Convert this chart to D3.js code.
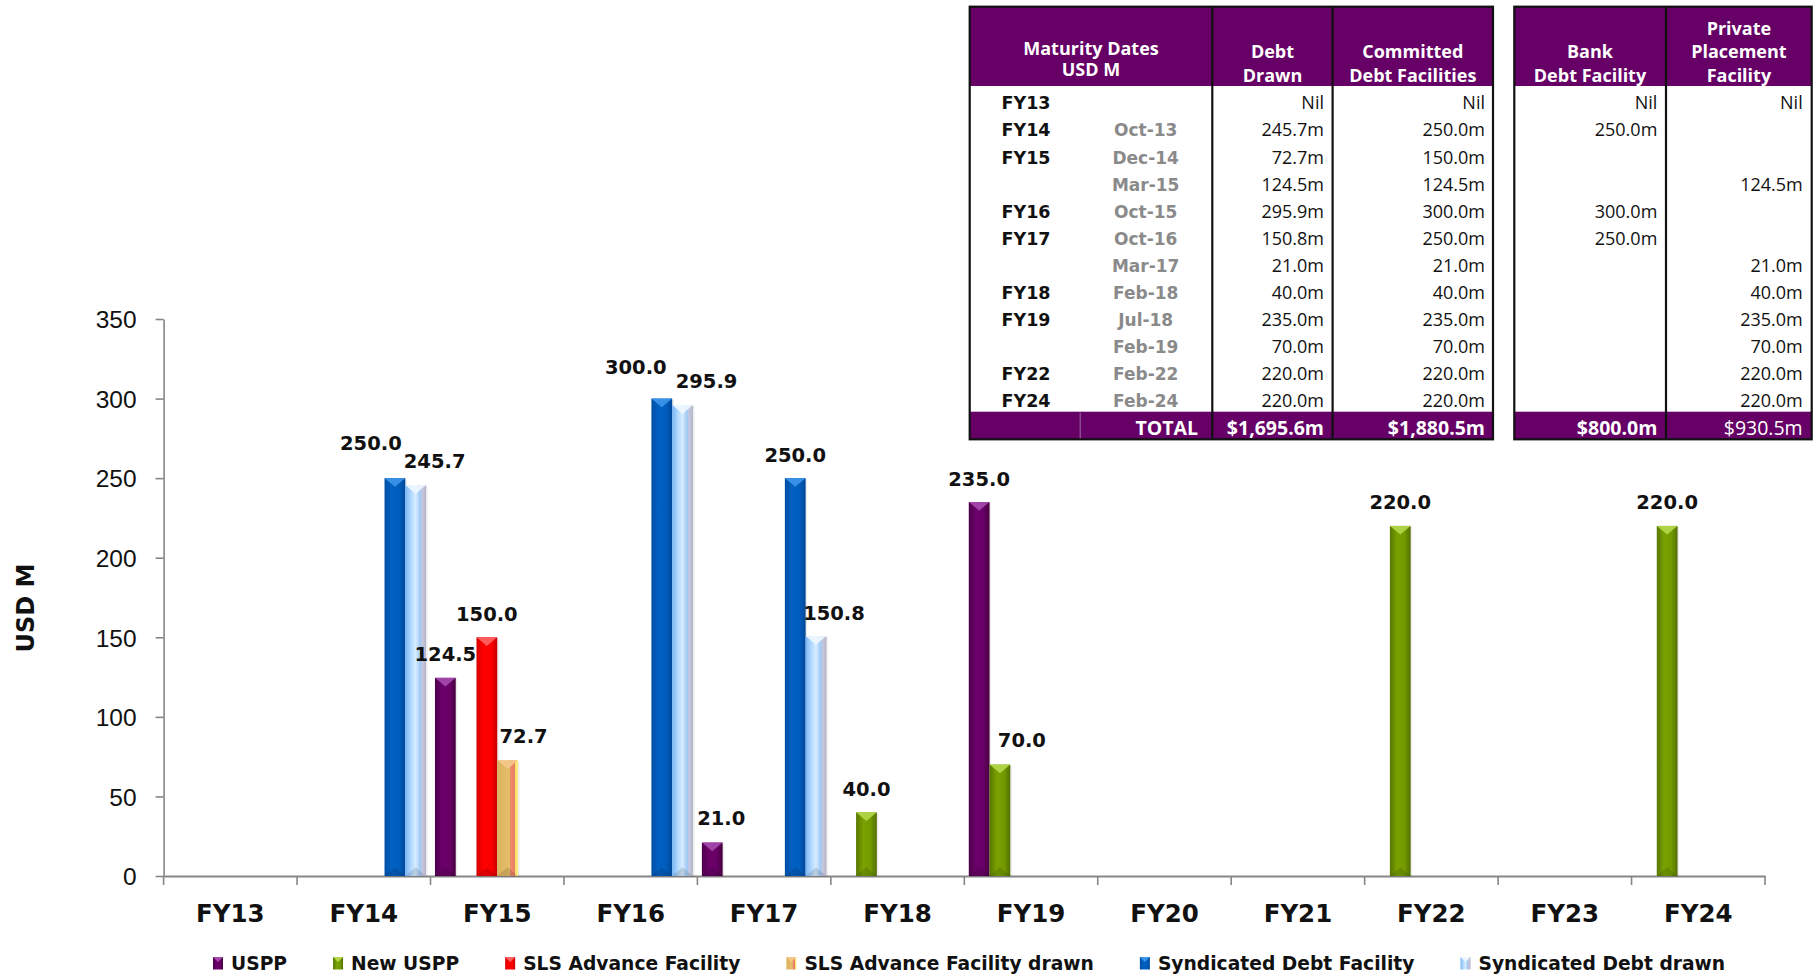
<!DOCTYPE html>
<html>
<head>
<meta charset="utf-8">
<script src="https://cdn.jsdelivr.net/npm/d3@7"></script>
<style>
  html, body { margin: 0; padding: 0; background: #ffffff; }
  svg { display: block; }
</style>
</head>
<body>
<svg id="chart" width="1814" height="975"></svg>
<script>
// ---- Chart data -------------------------------------------------------
const categories = ["FY13", "FY14", "FY15", "FY16", "FY17", "FY18", "FY19", "FY20", "FY21", "FY22", "FY23", "FY24"];
const seriesNames = ["USPP", "New USPP", "SLS Advance Facility", "SLS Advance Facility drawn", "Syndicated Debt Facility", "Syndicated Debt drawn"];

// one value per category (null = no maturity that year), USD M
const uspp         = [null, null, 124.5, null, 21.0, null, 235.0, null, null, null, null, null];
const newUspp      = [null, null, null, null, null, 40.0, 70.0, null, null, 220.0, null, 220.0];
const slsFacility  = [null, null, 150.0, null, null, null, null, null, null, null, null, null];
const slsDrawn     = [null, null, 72.7, null, null, null, null, null, null, null, null, null];
const syndFacility = [null, 250.0, null, 300.0, 250.0, null, null, null, null, null, null, null];
const syndDrawn    = [null, 245.7, null, 295.9, 150.8, null, null, null, null, null, null, null];

const yTicks = [0, 50, 100, 150, 200, 250, 300, 350];
const yTitle = "USD M";

// ---- Maturity table data ---------------------------------------------
const tableHeaders = [["Maturity Dates", "USD M"], ["Debt", "Drawn"], ["Committed", "Debt Facilities"]];
const sideHeaders = [["Bank", "Debt Facility"], ["Private", "Placement", "Facility"]];
const rowYears = ["FY13", "FY14", "FY15", "", "FY16", "FY17", "", "FY18", "FY19", "", "FY22", "FY24"];
const rowDates = ["", "Oct-13", "Dec-14", "Mar-15", "Oct-15", "Oct-16", "Mar-17", "Feb-18", "Jul-18", "Feb-19", "Feb-22", "Feb-24"];
// 0 = Nil, null = blank cell
const debtDrawn   = [0, 245.7, 72.7, 124.5, 295.9, 150.8, 21.0, 40.0, 235.0, 70.0, 220.0, 220.0];
const committed   = [0, 250.0, 150.0, 124.5, 300.0, 250.0, 21.0, 40.0, 235.0, 70.0, 220.0, 220.0];
const bankFacility = [0, 250.0, null, null, 300.0, 250.0, null, null, null, null, null, null];
const privatePlacement = [0, null, null, 124.5, null, null, 21.0, 40.0, 235.0, 70.0, 220.0, 220.0];

// ---- Styles ----------------------------------------------------------
const PURPLE = "#660066";
const seriesStyles = [
  { stops: [[0, "#4c004a"], [0.35, "#6c006a"], [0.7, "#680066"], [1, "#48003f"]], cap: "#a64aae" },
  { stops: [[0, "#587600"], [0.35, "#79a200"], [0.7, "#739a00"], [1, "#537000"]], cap: "#b4d84a" },
  { stops: [[0, "#d80000"], [0.35, "#ff0000"], [0.75, "#fa0000"], [1, "#c40000"]], cap: "#ff6464" },
  { stops: [[0, "#dcb25e"], [0.6, "#e6be68"], [0.64, "#ec8c6c"], [0.84, "#ee7e62"], [0.86, "#ffe26a"], [1, "#ffec80"]], cap: "#f4c88a" },
  { stops: [[0, "#004ea4"], [0.35, "#0061c2"], [0.7, "#005dbd"], [1, "#00489a"]], cap: "#3c96ea" },
  { stops: [[0, "#78b6f6"], [0.3, "#b6dbff"], [0.5, "#d8edff"], [0.72, "#9ec9f4"], [0.82, "#c6c8de"], [1, "#b4b4c8"]], cap: "#eef7ff" }
];
// hand-placed label nudges (dx, dy) keyed "series|category"
const labelNudge = {
  "4|FY14": [-24, -12], "5|FY14": [19, 0], "3|FY15": [16, -1],
  "4|FY16": [-26, -8], "5|FY16": [24, -1], "0|FY17": [9, -1],
  "5|FY17": [18, 0], "1|FY19": [22, -1]
};

const allSeries = [uspp, newUspp, slsFacility, slsDrawn, syndFacility, syndDrawn];

const svg = d3.select("#chart");
const defs = svg.append("defs");
seriesStyles.forEach((s, i) => {
  const g = defs.append("linearGradient").attr("id", "grad" + i)
    .attr("x1", 0).attr("x2", 1).attr("y1", 0).attr("y2", 0);
  s.stops.forEach(([o, c]) => g.append("stop").attr("offset", o).attr("stop-color", c));
});

// ---- Scales ----------------------------------------------------------
const plot = { left: 163.6, right: 1765, top: 319, bottom: 876 };
const x = d3.scaleBand().domain(categories).range([plot.left, plot.right]).padding(0);
const xs = d3.scaleBand().domain(d3.range(seriesNames.length)).range([0, x.bandwidth()])
  .paddingInner(0).paddingOuter(0.216);
const y = d3.scaleLinear().domain([0, 350]).range([plot.bottom, plot.top]);

// ---- Axes ------------------------------------------------------------
const axisColor = "#868686";
const yAxis = svg.append("g").attr("transform", `translate(${plot.left},0)`)
  .call(d3.axisLeft(y).tickValues(yTicks).tickSize(8).tickSizeOuter(0).tickPadding(19));
yAxis.select(".domain").attr("stroke", axisColor).attr("stroke-width", 1.6);
yAxis.selectAll(".tick line").attr("stroke", axisColor).attr("stroke-width", 1.6);
yAxis.selectAll(".tick text")
  .attr("font-family", "'Liberation Sans', Arial, sans-serif")
  .attr("font-size", 24.5).attr("fill", "#111").attr("dy", "0.36em");

const xAxis = svg.append("g").attr("transform", `translate(0,${plot.bottom})`)
  .call(d3.axisBottom(x).tickSize(0).tickSizeOuter(0));
xAxis.select(".domain").attr("stroke", axisColor).attr("stroke-width", 2);
xAxis.selectAll(".tick text")
  .attr("font-family", "'DejaVu Sans', Verdana, sans-serif").attr("font-weight", "bold")
  .attr("font-size", 24.5).attr("fill", "#111").attr("y", 46).attr("dy", 0);
// boundary ticks between fiscal years
xAxis.selectAll("line.bound")
  .data(d3.range(categories.length + 1)).join("line").attr("class", "bound")
  .attr("x1", i => plot.left + i * x.step()).attr("x2", i => plot.left + i * x.step())
  .attr("y1", 0).attr("y2", 9).attr("stroke", axisColor).attr("stroke-width", 1.6);

svg.append("text")
  .attr("transform", `translate(26,608) rotate(-90)`)
  .attr("text-anchor", "middle").attr("dominant-baseline", "central")
  .attr("font-family", "'DejaVu Sans', Verdana, sans-serif").attr("font-weight", "bold")
  .attr("font-size", 24).attr("fill", "#111").text(yTitle);

// ---- Bars ------------------------------------------------------------
const bars = [];
allSeries.forEach((vals, si) => {
  vals.forEach((v, ci) => { if (v != null) bars.push({ si, cat: categories[ci], v }); });
});

const barG = svg.append("g");
const bw = xs.bandwidth();
const capH = bw * 0.42;
const barGroups = barG.selectAll("g.bar").data(bars).join("g").attr("class", "bar");
barGroups.append("rect")
  .attr("x", d => x(d.cat) + xs(d.si) + 1.5).attr("y", d => y(d.v) + 1)
  .attr("width", bw).attr("height", d => y(0) - y(d.v))
  .attr("fill", "#000").attr("opacity", 0.08);
barGroups.append("rect")
  .attr("x", d => x(d.cat) + xs(d.si)).attr("y", d => y(d.v))
  .attr("width", bw).attr("height", d => y(0) - y(d.v))
  .attr("fill", d => `url(#grad${d.si})`);
barGroups.append("path")
  .attr("d", d => {
    const x0 = x(d.cat) + xs(d.si), t = y(d.v);
    return `M${x0},${t}L${x0 + bw},${t}L${x0 + bw / 2},${t + capH}Z`;
  })
  .attr("fill", d => seriesStyles[d.si].cap).attr("opacity", 0.9);
barGroups.append("path")
  .attr("d", d => {
    const x0 = x(d.cat) + xs(d.si), b = y(0);
    return `M${x0},${b}L${x0 + bw},${b}L${x0 + bw / 2},${b - capH}Z`;
  })
  .attr("fill", "#000").attr("opacity", 0.12);

// value labels
const nudge = d => labelNudge[d.si + "|" + d.cat] || [0, 0];
barG.selectAll("text.val").data(bars).join("text").attr("class", "val")
  .attr("x", d => x(d.cat) + xs(d.si) + bw / 2 + nudge(d)[0])
  .attr("y", d => y(d.v) - 16.5 + nudge(d)[1])
  .attr("text-anchor", "middle")
  .attr("font-family", "'DejaVu Sans', Verdana, sans-serif").attr("font-weight", "bold")
  .attr("font-size", 19.5).attr("fill", "#111")
  .text(d => d3.format(".1f")(d.v));

// ---- Legend ----------------------------------------------------------
const legend = svg.append("g").attr("transform", "translate(213,0)");
let lx = 0;
seriesNames.forEach((name, i) => {
  const item = legend.append("g").attr("transform", `translate(${lx},0)`);
  item.append("rect").attr("x", 0).attr("y", 957).attr("width", 10).attr("height", 12.5)
    .attr("fill", `url(#grad${i})`);
  item.append("path").attr("d", "M0,957L10,957L5,962Z").attr("fill", seriesStyles[i].cap);
  const t = item.append("text").attr("x", 18).attr("y", 970)
    .attr("font-family", "'DejaVu Sans', Verdana, sans-serif").attr("font-weight", "bold")
    .attr("font-size", 18.7).attr("fill", "#111").text(name);
  lx += 18 + t.node().getComputedTextLength() + 46;
});

// ---- Maturity tables -------------------------------------------------
const tbl = svg.append("g");
const fmtM = v => v === 0 ? "Nil" : (v == null ? "" : d3.format(".1f")(v) + "m");
const fmtTotal = v => "$" + d3.format(",.1f")(v) + "m";
const hdrTop = 6.7, hdrBot = 86, totTop = 411.7, totBot = 439.3;
const rowBase = i => 109.3 + i * 27.1;
const headFont = "'Open Sans', 'Noto Sans', sans-serif";
const verd = "'DejaVu Sans', Verdana, sans-serif";

function drawFrame(cols) {
  const xl = cols[0], xr = cols[cols.length - 1];
  tbl.append("rect").attr("x", xl).attr("y", hdrTop).attr("width", xr - xl).attr("height", hdrBot - hdrTop).attr("fill", PURPLE);
  tbl.append("rect").attr("x", xl).attr("y", totTop).attr("width", xr - xl).attr("height", totBot - totTop).attr("fill", PURPLE);
  tbl.append("rect").attr("x", xl).attr("y", hdrTop).attr("width", xr - xl).attr("height", totBot - hdrTop)
    .attr("fill", "none").attr("stroke", "#111").attr("stroke-width", 2.2);
  cols.slice(1, -1).forEach(cx => tbl.append("line").attr("x1", cx).attr("x2", cx)
    .attr("y1", hdrTop).attr("y2", totBot).attr("stroke", "#111").attr("stroke-width", 2.2));
}
function headerText(lines, cx, baselines) {
  const base = baselines || [81.7, 58.3, 35].slice(0, lines.length).reverse();
  lines.forEach((ln, k) => tbl.append("text").attr("x", cx).attr("y", base[k])
    .attr("text-anchor", "middle").attr("font-family", headFont).attr("font-weight", "bold")
    .attr("font-size", 18).attr("fill", "#fff").text(ln));
}
function valueColumn(vals, xr) {
  vals.forEach((v, i) => tbl.append("text").attr("x", xr).attr("y", rowBase(i))
    .attr("text-anchor", "end").attr("font-family", headFont)
    .attr("font-size", 18).attr("fill", "#111").text(fmtM(v)));
}
function totalText(txt, xr, bold) {
  tbl.append("text").attr("x", xr).attr("y", 435).attr("text-anchor", "end")
    .attr("font-family", headFont).attr("font-weight", bold ? "bold" : "normal")
    .attr("font-size", 19.5).attr("fill", "#fff").text(txt);
}

// left table: maturity, debt drawn, committed facilities
const colsL = [969.7, 1212.3, 1332.6, 1493];
drawFrame(colsL);
tbl.append("line").attr("x1", 1080.3).attr("x2", 1080.3).attr("y1", totTop + 1).attr("y2", totBot - 1)
  .attr("stroke", "#8e4a8e").attr("stroke-width", 1.5);
headerText(tableHeaders[0], 1091, [54.5, 76]);
headerText(tableHeaders[1], 1272.5);
headerText(tableHeaders[2], 1412.8);
rowYears.forEach((t, i) => tbl.append("text").attr("x", 1001.5).attr("y", rowBase(i))
  .attr("font-family", verd).attr("font-weight", "bold").attr("font-size", 17.5)
  .attr("fill", "#111").text(t));
rowDates.forEach((t, i) => tbl.append("text").attr("x", 1145.7).attr("y", rowBase(i))
  .attr("text-anchor", "middle").attr("font-family", verd).attr("font-weight", "bold")
  .attr("font-size", 17).attr("fill", "#8a8a8a").text(t));
valueColumn(debtDrawn, 1324);
valueColumn(committed, 1485);
tbl.append("text").attr("x", 1198).attr("y", 435).attr("text-anchor", "end")
  .attr("font-family", headFont).attr("font-weight", "bold").attr("font-size", 19.5)
  .attr("fill", "#fff").text("TOTAL");
totalText(fmtTotal(d3.sum(debtDrawn)), 1324, true);
totalText(fmtTotal(d3.sum(committed)), 1485, true);

// right table: bank and private placement facilities
const colsR = [1514.3, 1666, 1811.7];
drawFrame(colsR);
headerText(sideHeaders[0], 1590);
headerText(sideHeaders[1], 1738.9);
valueColumn(bankFacility, 1657.3);
valueColumn(privatePlacement, 1802.7);
totalText(fmtTotal(d3.sum(bankFacility)), 1657.3, true);
totalText(fmtTotal(d3.sum(privatePlacement)), 1802.7, false);
</script>
</body>
</html>
